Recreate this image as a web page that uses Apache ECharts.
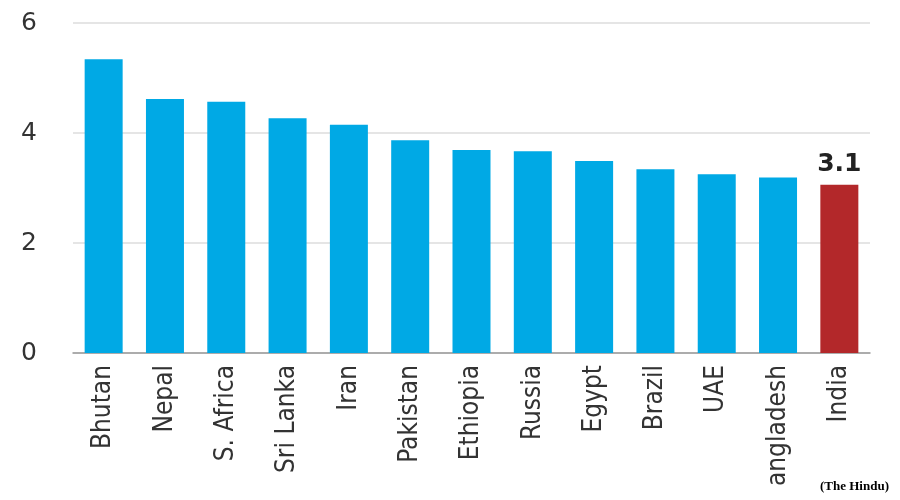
<!DOCTYPE html>
<html>
<head>
<meta charset="utf-8">
<script src="https://cdn.jsdelivr.net/npm/echarts@6/dist/echarts.min.js"></script>
<style>
  html, body { margin: 0; padding: 0; background: #fff; }
  #main { width: 900px; height: 500px; }
</style>
</head>
<body>
<div id="main"></div>
<script>
var countries = ['Bhutan', 'Nepal', 'S. Africa', 'Sri Lanka', 'Iran', 'Pakistan', 'Ethiopia',
                 'Russia', 'Egypt', 'Brazil', 'UAE', 'angladesh', 'India'];
var values = [5.34, 4.62, 4.57, 4.27, 4.15, 3.87, 3.69, 3.67, 3.49, 3.34, 3.25, 3.19, 3.06];
var yTicks = [0, 2, 4, 6];
var highlight = 'India';

var chartDom = document.getElementById('main');
var myChart = echarts.init(chartDom);
var option;

var barData = values.map(function (v, i) {
    var isHi = countries[i] === highlight;
    return {
        value: v,
        itemStyle: { color: isHi ? '#b3282a' : '#00a9e5' },
        label: {
            show: isHi,
            position: 'top',
            distance: 8,
            formatter: function (p) { return p.value.toFixed(1); },
            fontFamily: 'DejaVu Sans',
            fontWeight: 'bold',
            fontSize: 25,
            color: '#222'
        }
    };
});

option = {
    animation: false,
    grid: {
        left: 73,
        right: 30,
        top: 23,
        bottom: 147,
        containLabel: false
    },
    title: {
        text: '(The Hindu)',
        right: 6,
        bottom: 2,
        textStyle: {
            fontFamily: 'Liberation Serif',
            fontWeight: 'bold',
            fontSize: 13,
            color: '#000'
        }
    },
    xAxis: {
        type: 'category',
        data: countries,
        axisTick: { show: false },
        axisLine: { lineStyle: { color: '#999', width: 1.5 } },
        axisLabel: {
            rotate: 90,
            margin: 12,
            interval: 0,
            fontFamily: 'DejaVu Sans Condensed',
            fontSize: 26,
            color: '#333'
        }
    },
    yAxis: {
        type: 'value',
        min: yTicks[0],
        max: yTicks[yTicks.length - 1],
        interval: 2,
        axisLine: { show: false },
        axisTick: { show: false },
        splitLine: { lineStyle: { color: '#dcdcdc', width: 1.5 } },
        axisLabel: {
            margin: 36,
            fontFamily: 'DejaVu Sans',
            fontSize: 25,
            color: '#333'
        }
    },
    series: [
        {
            type: 'bar',
            barWidth: 38,
            data: barData
        }
    ]
};

option && myChart.setOption(option);
</script>
</body>
</html>
